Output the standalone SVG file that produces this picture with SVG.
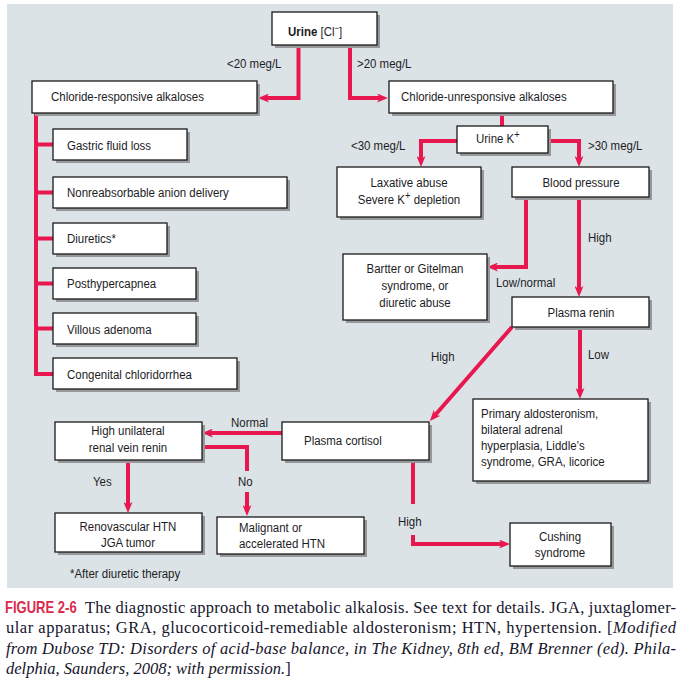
<svg xmlns="http://www.w3.org/2000/svg" width="682" height="687" viewBox="0 0 682 687">
<defs>
<style>
.bg{fill:#dce3e6}
.box{fill:#fff;stroke:#1a1a1a;stroke-width:1.3}
.sh{fill:#97989b}
.t{font-family:"Liberation Sans",Arial,sans-serif;font-size:13.5px;fill:#1d1d26;transform-box:fill-box;transform-origin:0 50%;transform:scaleX(0.85)}
.c{text-anchor:middle;transform-origin:50% 50%}
.b{font-weight:bold}
.ln{fill:none;stroke:#e8174f;stroke-width:4}
.cap{font-family:"Liberation Serif","Times New Roman",serif;font-size:16.5px;fill:#15152a}
.fig{font-family:"Liberation Sans",Arial,sans-serif;font-weight:bold;font-size:16.5px;fill:#dc2a4c;transform-box:fill-box;transform-origin:0 50%;transform:scaleX(0.79)}
.i{font-style:italic}
</style>
<marker id="ah" viewBox="0 0 11 9" markerWidth="11" markerHeight="9" refX="3" refY="4.5" orient="auto" markerUnits="userSpaceOnUse">
<path d="M0,0 L11,4.5 L0,9 L3,4.5 z" fill="#e8174f"/>
</marker>
</defs>
<rect class="bg" x="7" y="4" width="666" height="584"/>

<g id="connectors">
<path class="ln" d="M298.5,45 V98 H266" marker-end="url(#ah)"/>
<path class="ln" d="M350,45 V98 H380" marker-end="url(#ah)"/>
<path class="ln" d="M36,113 V374 H53"/>
<path class="ln" d="M36,144.5 H53 M36,192.5 H53 M36,238.5 H53 M36,283.5 H53 M36,328.5 H53"/>
<path class="ln" d="M502,113 V126"/>
<path class="ln" d="M457,141 H421 V159" marker-end="url(#ah)"/>
<path class="ln" d="M548,141 H579 V159" marker-end="url(#ah)"/>
<path class="ln" d="M526,197 V267 H495" marker-end="url(#ah)"/>
<path class="ln" d="M579,197 V289" marker-end="url(#ah)"/>
<path class="ln" d="M512,327 L435.2,415" marker-end="url(#ah)"/>
<path class="ln" d="M580,327 V391" marker-end="url(#ah)"/>
<path class="ln" d="M282,433 H210" marker-end="url(#ah)"/>
<path class="ln" d="M128,460 V505" marker-end="url(#ah)"/>
<path class="ln" d="M202,447 H247 V471"/>
<path class="ln" d="M247,492 V508" marker-end="url(#ah)"/>
<path class="ln" d="M413,460 V504"/>
<path class="ln" d="M413,535 V544 H502" marker-end="url(#ah)"/>
</g>

<g id="labels">
<text class="t" x="227" y="68">&lt;20 meg/L</text>
<text class="t" x="357" y="68">&gt;20 meg/L</text>
<text class="t" x="351" y="150">&lt;30 meg/L</text>
<text class="t" x="588" y="150">&gt;30 meg/L</text>
<text class="t" x="588" y="242">High</text>
<text class="t" x="496" y="287">Low/normal</text>
<text class="t" x="431" y="361">High</text>
<text class="t" x="588" y="359">Low</text>
<text class="t" x="231" y="427">Normal</text>
<text class="t" x="93" y="486">Yes</text>
<text class="t" x="238" y="486">No</text>
<text class="t" x="398" y="526">High</text>
</g>

<g id="urine-cl">
<rect class="sh" x="275" y="15" width="105" height="33"/>
<rect class="box" x="272" y="12" width="105" height="33"/>
<text class="t" x="288" y="36"><tspan class="b">Urine</tspan> [Cl<tspan dy="-5" font-size="9px">−</tspan><tspan dy="5">]</tspan></text>
</g>
<g id="cl-responsive">
<rect class="sh" x="35" y="84" width="225" height="32"/>
<rect class="box" x="32" y="81" width="225" height="32"/>
<text class="t" x="51" y="101">Chloride-responsive alkaloses</text>
</g>
<g id="cl-unresponsive">
<rect class="sh" x="392" y="84" width="224" height="32"/>
<rect class="box" x="389" y="81" width="224" height="32"/>
<text class="t" x="401" y="101">Chloride-unresponsive alkaloses</text>
</g>
<g id="gastric">
<rect class="sh" x="56" y="132" width="134" height="31"/>
<rect class="box" x="53" y="129" width="134" height="31"/>
<text class="t" x="67" y="150">Gastric fluid loss</text>
</g>
<g id="nonreab">
<rect class="sh" x="56" y="180" width="234" height="31"/>
<rect class="box" x="53" y="177" width="234" height="31"/>
<text class="t" x="67" y="197">Nonreabsorbable anion delivery</text>
</g>
<g id="diuretics">
<rect class="sh" x="56" y="226" width="114" height="31"/>
<rect class="box" x="53" y="223" width="114" height="31"/>
<text class="t" x="67" y="243">Diuretics*</text>
</g>
<g id="posthypercapnea">
<rect class="sh" x="56" y="271" width="143" height="31"/>
<rect class="box" x="53" y="268" width="143" height="31"/>
<text class="t" x="67" y="288">Posthypercapnea</text>
</g>
<g id="villous">
<rect class="sh" x="56" y="316" width="143" height="31"/>
<rect class="box" x="53" y="313" width="143" height="31"/>
<text class="t" x="67" y="334">Villous adenoma</text>
</g>
<g id="congenital">
<rect class="sh" x="56" y="361" width="184" height="31"/>
<rect class="box" x="53" y="358" width="184" height="31"/>
<text class="t" x="67" y="379">Congenital chloridorrhea</text>
</g>
<g id="urine-k">
<rect class="sh" x="460" y="129" width="91" height="27"/>
<rect class="box" x="457" y="126" width="91" height="27"/>
<text class="t" x="476" y="143">Urine K<tspan dy="-5" font-size="11px">+</tspan></text>
</g>
<g id="laxative">
<rect class="sh" x="340" y="170" width="144" height="50"/>
<rect class="box" x="337" y="167" width="144" height="50"/>
<text class="t c" x="409" y="187">Laxative abuse</text>
<text class="t c" x="409" y="204">Severe K<tspan dy="-5" font-size="11px">+</tspan><tspan dy="5"> depletion</tspan></text>
</g>
<g id="blood-pressure">
<rect class="sh" x="515" y="170" width="137" height="30"/>
<rect class="box" x="512" y="167" width="137" height="30"/>
<text class="t c" x="581" y="187">Blood pressure</text>
</g>
<g id="bartter">
<rect class="sh" x="346" y="257" width="144" height="66"/>
<rect class="box" x="343" y="254" width="144" height="66"/>
<text class="t c" x="415" y="273">Bartter or Gitelman</text>
<text class="t c" x="415" y="290">syndrome, or</text>
<text class="t c" x="415" y="307">diuretic abuse</text>
</g>
<g id="plasma-renin">
<rect class="sh" x="515" y="300" width="137" height="30"/>
<rect class="box" x="512" y="297" width="137" height="30"/>
<text class="t c" x="581" y="317">Plasma renin</text>
</g>
<g id="primary-aldo">
<rect class="sh" x="476" y="402" width="175" height="82"/>
<rect class="box" x="473" y="399" width="175" height="82"/>
<text class="t" x="481" y="418">Primary aldosteronism,</text>
<text class="t" x="481" y="434">bilateral adrenal</text>
<text class="t" x="481" y="450">hyperplasia, Liddle’s</text>
<text class="t" x="481" y="466">syndrome, GRA, licorice</text>
</g>
<g id="plasma-cortisol">
<rect class="sh" x="285" y="425" width="147" height="38"/>
<rect class="box" x="282" y="422" width="147" height="38"/>
<text class="t" x="304" y="445">Plasma cortisol</text>
</g>
<g id="renal-vein">
<rect class="sh" x="58" y="425" width="147" height="38"/>
<rect class="box" x="55" y="422" width="147" height="38"/>
<text class="t c" x="128" y="435">High unilateral</text>
<text class="t c" x="128" y="452">renal vein renin</text>
</g>
<g id="renovascular">
<rect class="sh" x="58" y="516" width="147" height="39"/>
<rect class="box" x="55" y="513" width="147" height="39"/>
<text class="t c" x="128" y="531">Renovascular HTN</text>
<text class="t c" x="128" y="547">JGA tumor</text>
</g>
<g id="malignant">
<rect class="sh" x="220" y="520" width="147" height="37"/>
<rect class="box" x="217" y="517" width="147" height="37"/>
<text class="t" x="239" y="532">Malignant or</text>
<text class="t" x="239" y="548">accelerated HTN</text>
</g>
<g id="cushing">
<rect class="sh" x="513" y="526" width="101" height="43"/>
<rect class="box" x="510" y="523" width="101" height="43"/>
<text class="t c" x="560" y="541">Cushing</text>
<text class="t c" x="560" y="557">syndrome</text>
</g>
<text class="t" x="70" y="578">*After diuretic therapy</text>

<g id="caption">
<text class="fig" x="5" y="613">FIGURE 2-6</text>
<text class="cap" x="85" y="613" textLength="591" lengthAdjust="spacing">The diagnostic approach to metabolic alkalosis. See text for details. JGA, juxtaglomer-</text>
<text class="cap" x="6" y="633" textLength="670" lengthAdjust="spacing">ular apparatus; GRA, glucocorticoid-remediable aldosteronism; HTN, hypertension. [<tspan class="i">Modified</tspan></text>
<text class="cap i" x="6" y="654" textLength="670" lengthAdjust="spacing">from Dubose TD: Disorders of acid-base balance, in The Kidney, 8th ed, BM Brenner (ed). Phila-</text>
<text class="cap" x="6" y="674"><tspan class="i">delphia, Saunders, 2008; with permission.</tspan>]</text>
</g>
</svg>
